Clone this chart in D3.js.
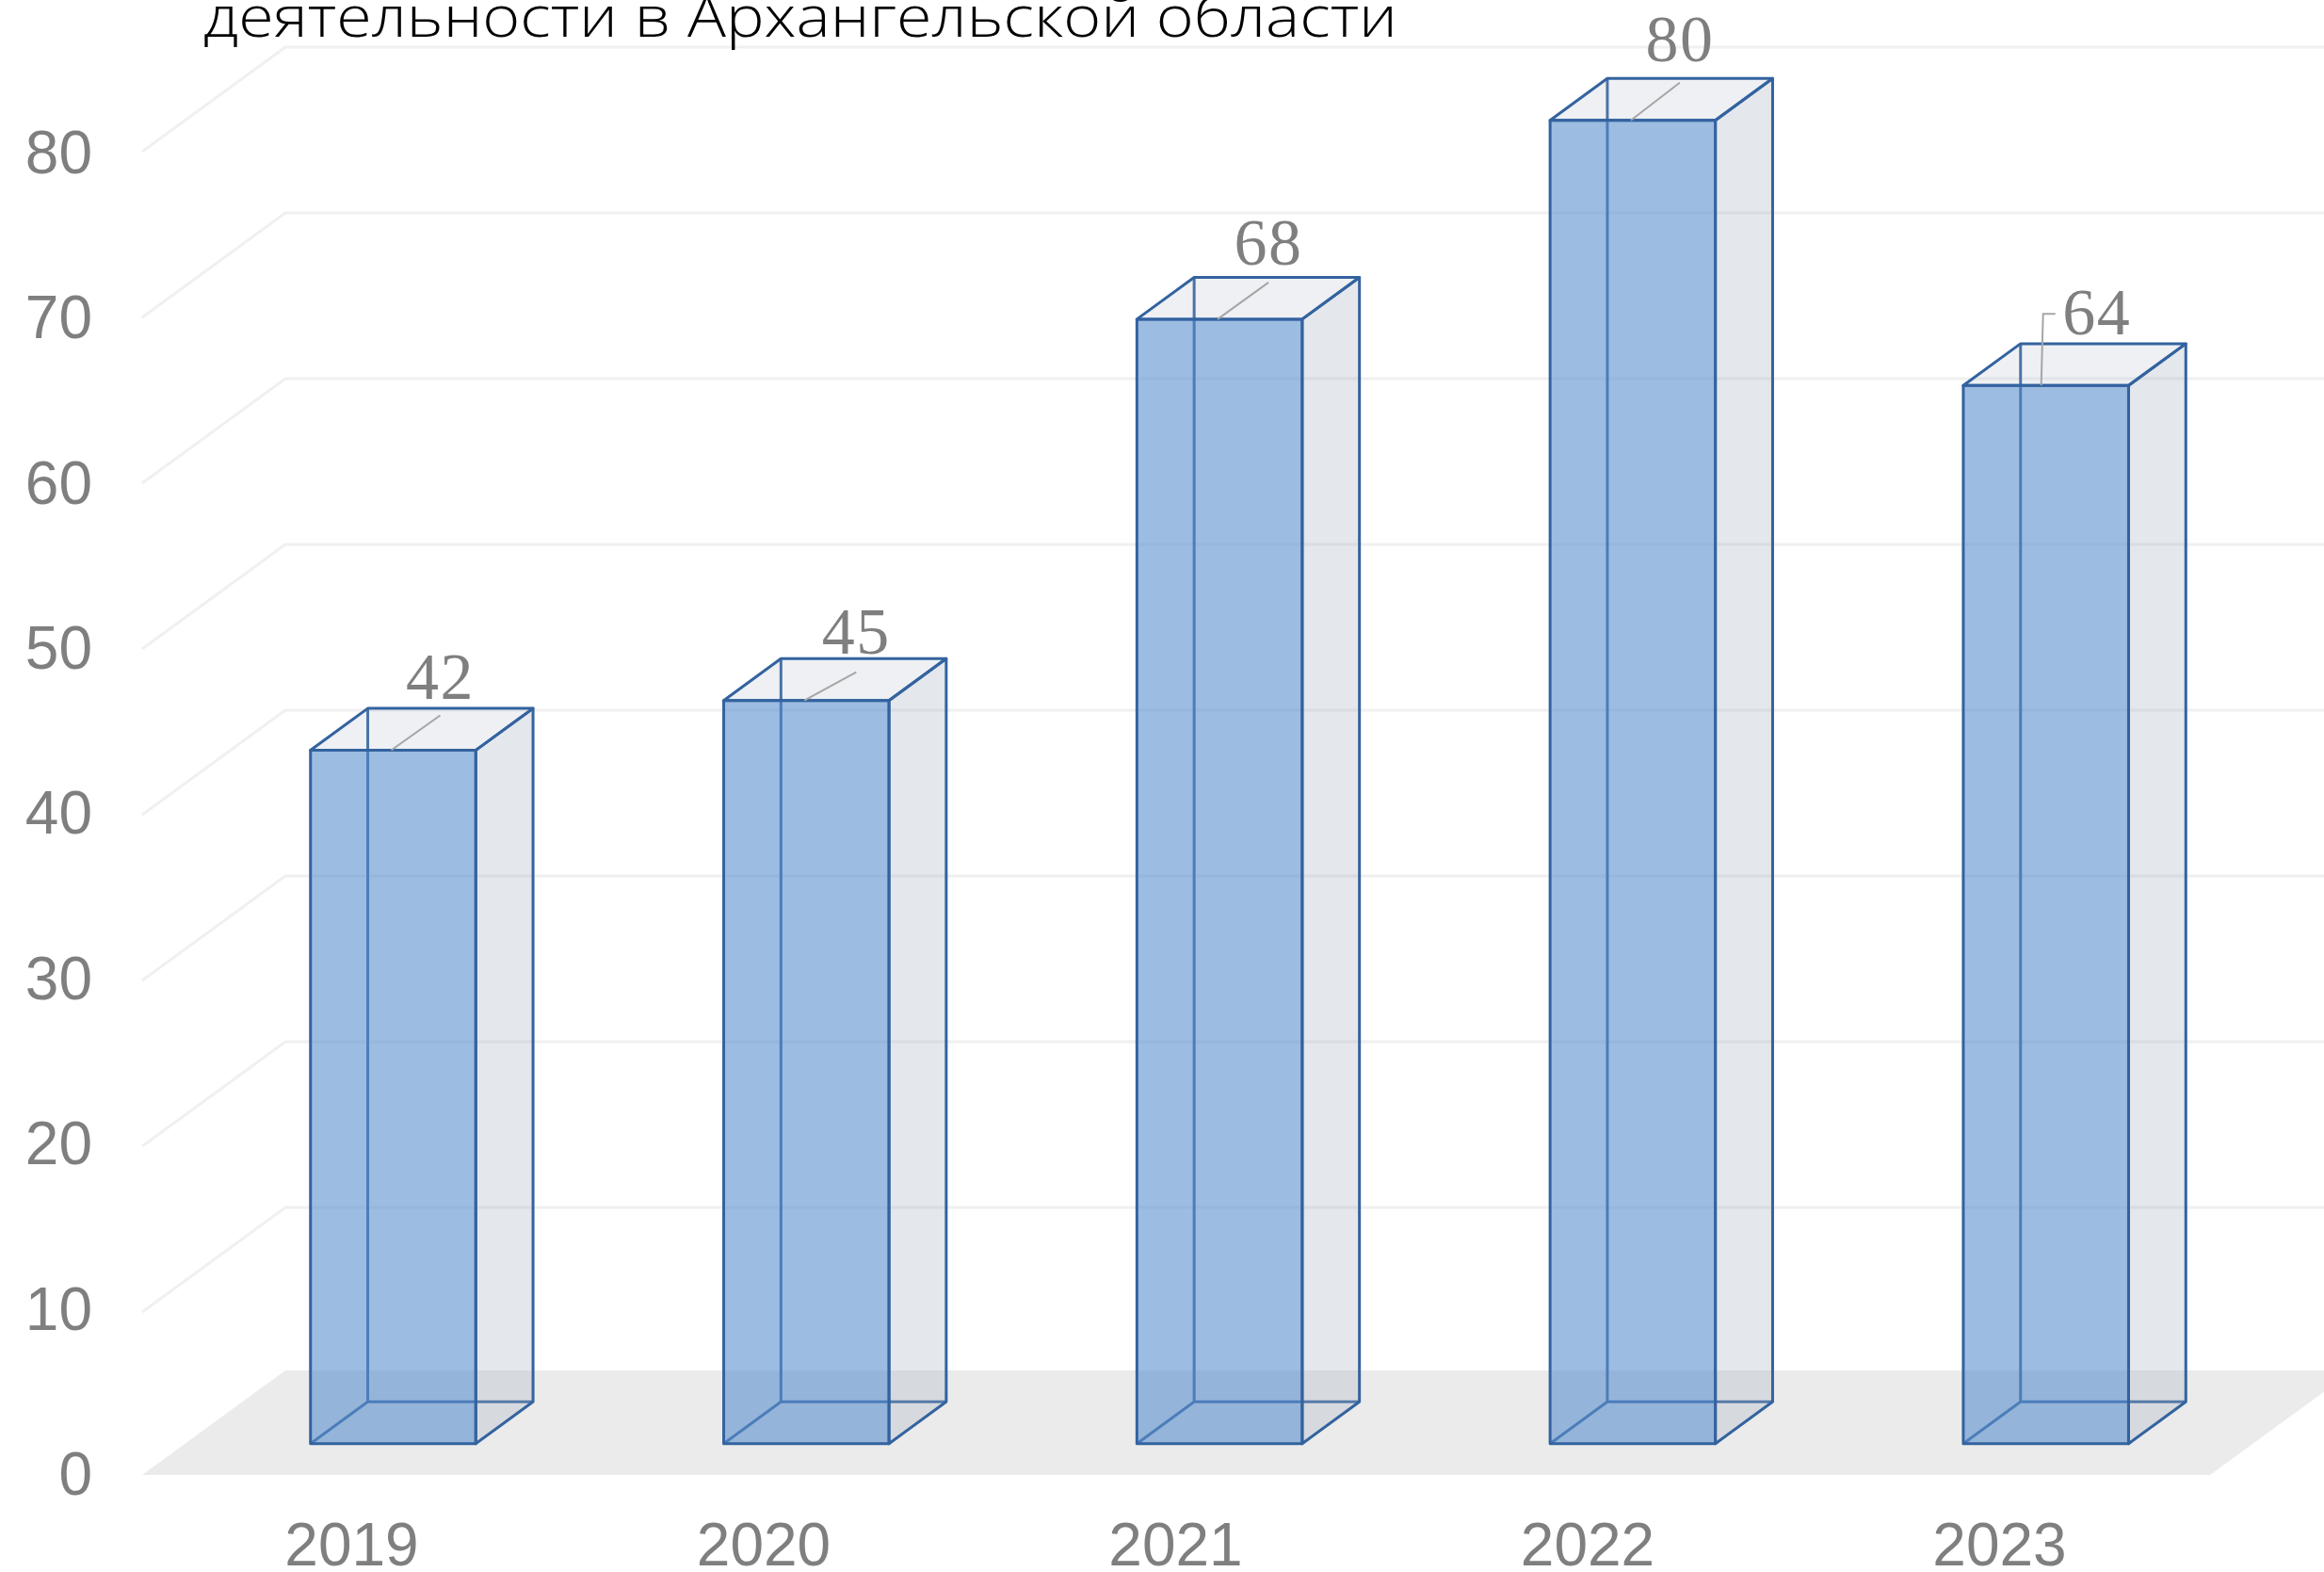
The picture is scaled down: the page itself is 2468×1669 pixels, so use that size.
<!DOCTYPE html>
<html>
<head>
<meta charset="utf-8">
<script src="https://cdn.jsdelivr.net/npm/d3@7"></script>
<style>
  html, body { margin: 0; padding: 0; background: #fff; overflow: hidden; }
  svg { display: block; }
</style>
</head>
<body>
<svg id="barChart"></svg>
<script>
// values
var years = ["2019", "2020", "2021", "2022", "2023"];
var counts = [42, 45, 68, 80, 64];
var yTicks = [0, 10, 20, 30, 40, 50, 60, 70, 80];
var titleLine = "деятельности в Архангельской области";

var width = 2468, height = 1669;
var svg = d3.select("#barChart").attr("width", width).attr("height", height);

var floorLeft = 151, floorRight = 2347;
var floorLift = 3;   // floor sits a little above the zero of the value scale

var x = d3.scaleBand().domain(years).range([152.5, 2346.5]).padding(0.6).paddingOuter(0.3);
var y = d3.scaleLinear().domain([0, 80]).range([1569, 161]);
// how far a point moves when it goes from the front (0) to the back (1) of the box
var depthX = d3.scaleLinear().domain([0, 1]).range([0, 152]);
var depthY = d3.scaleLinear().domain([0, 1]).range([0, -111]);

// tick labels do not sit exactly on the gridlines in the original
var xLabels = d3.scaleBand().domain(years).range([154.75, 2342.25]);
var yLabels = d3.scaleLinear().domain([0, 80]).range([1566, 163]);

var barFront = 0.3, barBack = 0.7;
var edge = "#33639f";

function pt(px, val, depth) {
  return [px + depthX(depth), y(val) - (val === 0 ? floorLift : 0) + depthY(depth)];
}
function poly(points) {
  return d3.line()(points) + "Z";
}

// floor
svg.append("path")
  .attr("d", poly([pt(floorLeft, 0, 0), pt(floorRight, 0, 0), pt(floorRight, 0, 1), pt(floorLeft, 0, 1)]))
  .attr("fill", "#ebebeb");

// grid on the side wall and the back wall
var gridTicks = yTicks.slice(1);
svg.selectAll(".grid")
  .data(gridTicks)
  .enter()
  .append("path")
  .attr("class", "grid")
  .attr("d", d => d3.line()([pt(floorLeft, d, 0), pt(floorLeft, d, 1), pt(floorRight, d, 1)]))
  .attr("fill", "none")
  .attr("stroke", "#f0f0f0")
  .attr("stroke-width", 3);

var data = years.map((yr, i) => ({ year: yr, value: counts[i] }));
var bars = svg.selectAll(".bar").data(data).enter().append("g").attr("class", "bar");

// the corners of one box
function corners(d) {
  var l = x(d.year), r = l + x.bandwidth();
  return {
    fbl: pt(l, 0, barFront), fbr: pt(r, 0, barFront), ftl: pt(l, d.value, barFront), ftr: pt(r, d.value, barFront),
    bbl: pt(l, 0, barBack), bbr: pt(r, 0, barBack), btl: pt(l, d.value, barBack), btr: pt(r, d.value, barBack)
  };
}

// edges at the back, seen through the glass
bars.append("path")
  .attr("d", d => {
    var c = corners(d);
    return d3.line()([c.fbl, c.bbl, c.bbr]) + d3.line()([c.bbl, c.btl]);
  })
  .attr("fill", "none")
  .attr("stroke", edge)
  .attr("stroke-width", 3);

// right side
bars.append("path")
  .attr("d", d => { var c = corners(d); return poly([c.fbr, c.bbr, c.btr, c.ftr]); })
  .attr("fill", "#a5afc0")
  .attr("fill-opacity", 0.3)
  .attr("stroke", edge)
  .attr("stroke-width", 3)
  .attr("stroke-linejoin", "round");

// top
bars.append("path")
  .attr("d", d => { var c = corners(d); return poly([c.ftl, c.ftr, c.btr, c.btl]); })
  .attr("fill", "#aab4c8")
  .attr("fill-opacity", 0.2)
  .attr("stroke", edge)
  .attr("stroke-width", 3)
  .attr("stroke-linejoin", "round");

// front
bars.append("path")
  .attr("d", d => { var c = corners(d); return poly([c.fbl, c.fbr, c.ftr, c.ftl]); })
  .attr("fill", "#5b8fcd")
  .attr("fill-opacity", 0.6)
  .attr("stroke", edge)
  .attr("stroke-width", 3)
  .attr("stroke-linejoin", "round");

// leader lines and data labels, measured from the middle of the top front edge
// [label dx, label dy, leader end dy]
var nudge = { "2019": [50, -78, -37], "2020": [53, -73, -30], "2021": [52, -81, -39], "2022": [50, -86, -40], "2023": [54, -77, -76] };

function topMiddle(d) {
  return pt(x(d.year) + x.bandwidth() / 2, d.value, barFront);
}

bars.append("path")
  .attr("d", d => {
    var s = topMiddle(d), n = nudge[d.year];
    if (d.year === "2023") {
      // this one label was pulled aside, so its leader has an elbow
      return d3.line()([[s[0] - 5, s[1]], [s[0] - 3, s[1] + n[2]], [s[0] + 10, s[1] + n[2]]]);
    }
    return d3.line()([[s[0] - 2, s[1]], [s[0] + n[0], s[1] + n[2]]]);
  })
  .attr("fill", "none")
  .attr("stroke", "#a6a6a6")
  .attr("stroke-width", 2);

bars.append("text")
  .attr("x", d => topMiddle(d)[0] + nudge[d.year][0])
  .attr("y", d => topMiddle(d)[1] + nudge[d.year][1])
  .attr("dy", "0.33em")
  .attr("text-anchor", "middle")
  .attr("font-family", "'Liberation Serif', serif")
  .attr("font-size", 70)
  .attr("letter-spacing", 1.5)
  .attr("fill", "#7f7f7f")
  .text(d => d.value);

// axes
var yAxis = svg.append("g")
  .attr("transform", "translate(98,0)")
  .call(d3.axisLeft(yLabels).tickValues(yTicks).tickSize(0).tickPadding(0));
var xAxis = svg.append("g")
  .attr("transform", "translate(0,1617)")
  .call(d3.axisBottom(xLabels).tickSize(0).tickPadding(0));

[yAxis, xAxis].forEach(function (a) {
  a.select(".domain").remove();
  a.selectAll("text")
    .attr("font-family", "'Liberation Sans', Arial, sans-serif")
    .attr("font-size", 64)
    .attr("fill", "#7f7f7f");
});

// title, its first line is cut off by the top of the picture
svg.append("text")
  .attr("x", 216)
  .attr("y", 39)
  .attr("font-family", "'Open Sans', sans-serif")
  .attr("font-weight", 300)
  .attr("font-size", 60)
  .attr("textLength", 1268)
  .attr("lengthAdjust", "spacingAndGlyphs")
  .attr("fill", "#000")
  .text(titleLine);
</script>
</body>
</html>
